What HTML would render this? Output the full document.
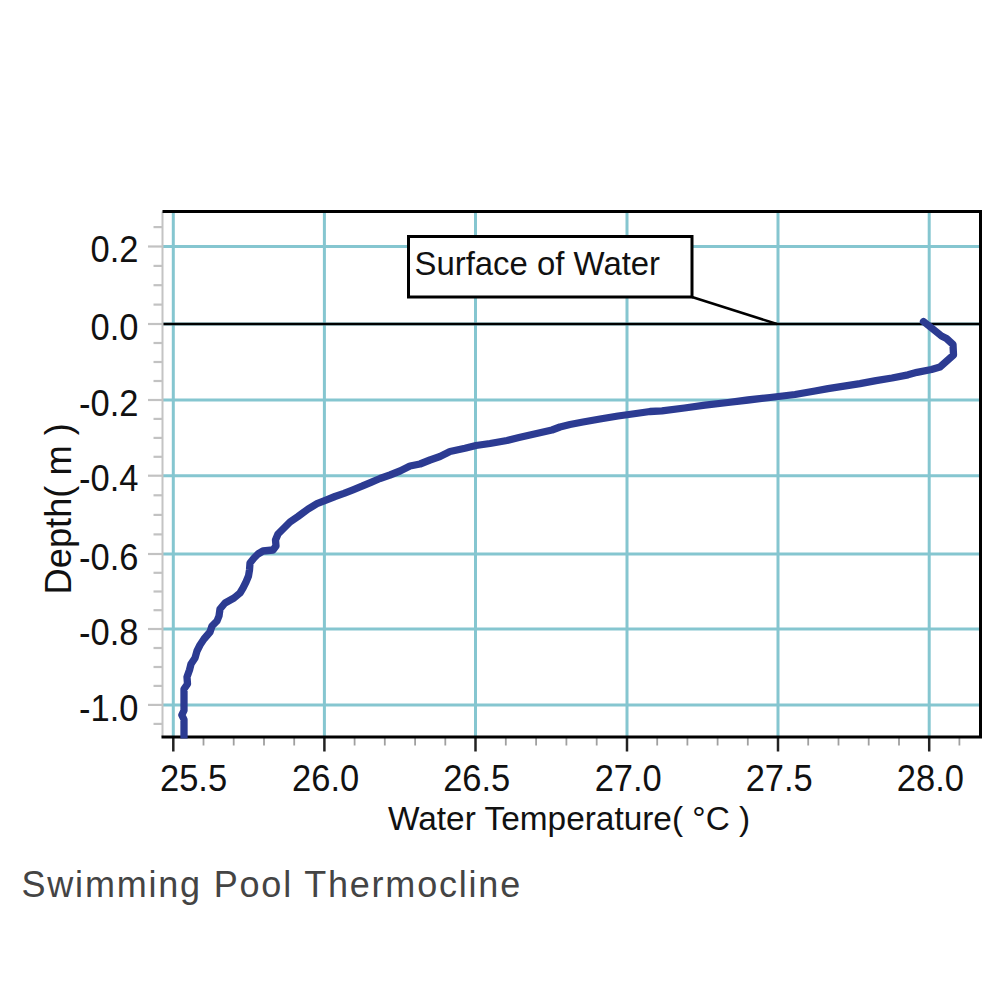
<!DOCTYPE html><html><head><meta charset="utf-8"><style>html,body{margin:0;padding:0;background:#fff;width:1000px;height:1000px;overflow:hidden}svg{display:block}text{font-family:"Liberation Sans",sans-serif}</style></head><body>
<svg width="1000" height="1000" viewBox="0 0 1000 1000">
<rect x="0" y="0" width="1000" height="1000" fill="#fff"/>
<defs><clipPath id="pc"><rect x="162.5" y="211.5" width="818.0" height="527.0"/></clipPath></defs>
<line x1="173.3" y1="211.5" x2="173.3" y2="737.0" stroke="#85c6d0" stroke-width="3"/>
<line x1="324.4" y1="211.5" x2="324.4" y2="737.0" stroke="#85c6d0" stroke-width="3"/>
<line x1="475.5" y1="211.5" x2="475.5" y2="737.0" stroke="#85c6d0" stroke-width="3"/>
<line x1="627.0" y1="211.5" x2="627.0" y2="737.0" stroke="#85c6d0" stroke-width="3"/>
<line x1="778.0" y1="211.5" x2="778.0" y2="737.0" stroke="#85c6d0" stroke-width="3"/>
<line x1="929.2" y1="211.5" x2="929.2" y2="737.0" stroke="#85c6d0" stroke-width="3"/>
<line x1="162.5" y1="246.5" x2="980.5" y2="246.5" stroke="#85c6d0" stroke-width="3"/>
<line x1="162.5" y1="324.0" x2="980.5" y2="324.0" stroke="#85c6d0" stroke-width="3"/>
<line x1="162.5" y1="400.0" x2="980.5" y2="400.0" stroke="#85c6d0" stroke-width="3"/>
<line x1="162.5" y1="475.7" x2="980.5" y2="475.7" stroke="#85c6d0" stroke-width="3"/>
<line x1="162.5" y1="554.0" x2="980.5" y2="554.0" stroke="#85c6d0" stroke-width="3"/>
<line x1="162.5" y1="629.0" x2="980.5" y2="629.0" stroke="#85c6d0" stroke-width="3"/>
<line x1="162.5" y1="704.9" x2="980.5" y2="704.9" stroke="#85c6d0" stroke-width="3"/>
<line x1="153.5" y1="227.1" x2="162.5" y2="227.1" stroke="#c2c2c2" stroke-width="2.2"/>
<line x1="148.0" y1="246.5" x2="162.5" y2="246.5" stroke="#c2c2c2" stroke-width="2.2"/>
<line x1="153.5" y1="265.9" x2="162.5" y2="265.9" stroke="#c2c2c2" stroke-width="2.2"/>
<line x1="153.5" y1="285.2" x2="162.5" y2="285.2" stroke="#c2c2c2" stroke-width="2.2"/>
<line x1="153.5" y1="304.6" x2="162.5" y2="304.6" stroke="#c2c2c2" stroke-width="2.2"/>
<line x1="148.0" y1="324.0" x2="162.5" y2="324.0" stroke="#c2c2c2" stroke-width="2.2"/>
<line x1="153.5" y1="343.0" x2="162.5" y2="343.0" stroke="#c2c2c2" stroke-width="2.2"/>
<line x1="153.5" y1="362.0" x2="162.5" y2="362.0" stroke="#c2c2c2" stroke-width="2.2"/>
<line x1="153.5" y1="381.0" x2="162.5" y2="381.0" stroke="#c2c2c2" stroke-width="2.2"/>
<line x1="148.0" y1="400.0" x2="162.5" y2="400.0" stroke="#c2c2c2" stroke-width="2.2"/>
<line x1="153.5" y1="418.9" x2="162.5" y2="418.9" stroke="#c2c2c2" stroke-width="2.2"/>
<line x1="153.5" y1="437.9" x2="162.5" y2="437.9" stroke="#c2c2c2" stroke-width="2.2"/>
<line x1="153.5" y1="456.8" x2="162.5" y2="456.8" stroke="#c2c2c2" stroke-width="2.2"/>
<line x1="148.0" y1="475.7" x2="162.5" y2="475.7" stroke="#c2c2c2" stroke-width="2.2"/>
<line x1="153.5" y1="495.3" x2="162.5" y2="495.3" stroke="#c2c2c2" stroke-width="2.2"/>
<line x1="153.5" y1="514.9" x2="162.5" y2="514.9" stroke="#c2c2c2" stroke-width="2.2"/>
<line x1="153.5" y1="534.4" x2="162.5" y2="534.4" stroke="#c2c2c2" stroke-width="2.2"/>
<line x1="148.0" y1="554.0" x2="162.5" y2="554.0" stroke="#c2c2c2" stroke-width="2.2"/>
<line x1="153.5" y1="572.8" x2="162.5" y2="572.8" stroke="#c2c2c2" stroke-width="2.2"/>
<line x1="153.5" y1="591.5" x2="162.5" y2="591.5" stroke="#c2c2c2" stroke-width="2.2"/>
<line x1="153.5" y1="610.2" x2="162.5" y2="610.2" stroke="#c2c2c2" stroke-width="2.2"/>
<line x1="148.0" y1="629.0" x2="162.5" y2="629.0" stroke="#c2c2c2" stroke-width="2.2"/>
<line x1="153.5" y1="648.0" x2="162.5" y2="648.0" stroke="#c2c2c2" stroke-width="2.2"/>
<line x1="153.5" y1="667.0" x2="162.5" y2="667.0" stroke="#c2c2c2" stroke-width="2.2"/>
<line x1="153.5" y1="685.9" x2="162.5" y2="685.9" stroke="#c2c2c2" stroke-width="2.2"/>
<line x1="148.0" y1="704.9" x2="162.5" y2="704.9" stroke="#c2c2c2" stroke-width="2.2"/>
<line x1="153.5" y1="723.9" x2="162.5" y2="723.9" stroke="#c2c2c2" stroke-width="2.2"/>
<line x1="173.3" y1="737.0" x2="173.3" y2="751.5" stroke="#222" stroke-width="2.5"/>
<line x1="203.5" y1="737.0" x2="203.5" y2="745.5" stroke="#a0a0a0" stroke-width="1.8"/>
<line x1="233.7" y1="737.0" x2="233.7" y2="745.5" stroke="#a0a0a0" stroke-width="1.8"/>
<line x1="264.0" y1="737.0" x2="264.0" y2="745.5" stroke="#a0a0a0" stroke-width="1.8"/>
<line x1="294.2" y1="737.0" x2="294.2" y2="745.5" stroke="#a0a0a0" stroke-width="1.8"/>
<line x1="324.4" y1="737.0" x2="324.4" y2="751.5" stroke="#222" stroke-width="2.5"/>
<line x1="354.6" y1="737.0" x2="354.6" y2="745.5" stroke="#a0a0a0" stroke-width="1.8"/>
<line x1="384.8" y1="737.0" x2="384.8" y2="745.5" stroke="#a0a0a0" stroke-width="1.8"/>
<line x1="415.1" y1="737.0" x2="415.1" y2="745.5" stroke="#a0a0a0" stroke-width="1.8"/>
<line x1="445.3" y1="737.0" x2="445.3" y2="745.5" stroke="#a0a0a0" stroke-width="1.8"/>
<line x1="475.5" y1="737.0" x2="475.5" y2="751.5" stroke="#222" stroke-width="2.5"/>
<line x1="505.8" y1="737.0" x2="505.8" y2="745.5" stroke="#a0a0a0" stroke-width="1.8"/>
<line x1="536.1" y1="737.0" x2="536.1" y2="745.5" stroke="#a0a0a0" stroke-width="1.8"/>
<line x1="566.4" y1="737.0" x2="566.4" y2="745.5" stroke="#a0a0a0" stroke-width="1.8"/>
<line x1="596.7" y1="737.0" x2="596.7" y2="745.5" stroke="#a0a0a0" stroke-width="1.8"/>
<line x1="627.0" y1="737.0" x2="627.0" y2="751.5" stroke="#222" stroke-width="2.5"/>
<line x1="657.2" y1="737.0" x2="657.2" y2="745.5" stroke="#a0a0a0" stroke-width="1.8"/>
<line x1="687.4" y1="737.0" x2="687.4" y2="745.5" stroke="#a0a0a0" stroke-width="1.8"/>
<line x1="717.6" y1="737.0" x2="717.6" y2="745.5" stroke="#a0a0a0" stroke-width="1.8"/>
<line x1="747.8" y1="737.0" x2="747.8" y2="745.5" stroke="#a0a0a0" stroke-width="1.8"/>
<line x1="778.0" y1="737.0" x2="778.0" y2="751.5" stroke="#222" stroke-width="2.5"/>
<line x1="808.2" y1="737.0" x2="808.2" y2="745.5" stroke="#a0a0a0" stroke-width="1.8"/>
<line x1="838.5" y1="737.0" x2="838.5" y2="745.5" stroke="#a0a0a0" stroke-width="1.8"/>
<line x1="868.7" y1="737.0" x2="868.7" y2="745.5" stroke="#a0a0a0" stroke-width="1.8"/>
<line x1="899.0" y1="737.0" x2="899.0" y2="745.5" stroke="#a0a0a0" stroke-width="1.8"/>
<line x1="929.2" y1="737.0" x2="929.2" y2="751.5" stroke="#222" stroke-width="2.5"/>
<line x1="959.4" y1="737.0" x2="959.4" y2="745.5" stroke="#a0a0a0" stroke-width="1.8"/>
<line x1="162.5" y1="324" x2="980.5" y2="324" stroke="#000" stroke-width="2.5"/>
<line x1="692" y1="297" x2="777" y2="324" stroke="#000" stroke-width="2.5"/>
<rect x="408.5" y="236.5" width="283.5" height="60.5" fill="#fff" stroke="#000" stroke-width="3"/>
<text x="414.5" y="274.5" font-size="32.9" fill="#111">Surface of Water</text>
<line x1="162.5" y1="211.5" x2="162.5" y2="737.0" stroke="#c4c4c4" stroke-width="2"/>
<path d="M162.5 211.5 H980.5 V737.0 H161.5" fill="none" stroke="#000" stroke-width="3"/>
<polyline clip-path="url(#pc)" points="923.5,321.5 931.0,327.5 941.5,336.0 946.5,338.5 953.0,344.5 953.5,355.0 949.0,359.0 940.0,367.0 931.5,369.5 917.0,372.3 908.0,374.8 892.0,378.0 876.0,380.6 860.0,383.6 844.0,386.2 828.0,388.6 815.0,391.0 795.0,394.5 770.0,397.5 748.0,400.0 728.0,402.5 705.0,405.2 684.5,408.0 662.0,410.8 650.0,411.5 636.0,413.5 618.0,416.0 600.0,419.0 583.0,422.0 570.0,424.5 560.0,427.0 552.0,430.0 541.0,432.5 530.0,435.0 519.0,437.5 507.0,440.5 490.0,443.5 476.0,445.5 465.0,448.3 450.0,451.5 440.0,456.5 430.0,460.0 420.0,464.0 410.0,466.0 400.0,471.0 390.0,475.0 380.0,478.5 371.0,482.3 362.0,486.2 353.0,489.8 344.0,493.4 335.0,496.5 326.0,500.1 317.0,503.7 308.0,509.1 298.0,516.5 290.0,522.0 284.0,528.0 278.0,534.0 275.5,540.0 276.0,546.0 273.0,550.0 268.0,550.5 263.0,551.0 258.0,554.0 254.0,558.0 250.0,563.0 249.5,570.0 248.5,576.0 246.0,582.0 243.0,588.0 240.0,593.0 234.0,598.0 225.0,603.0 220.0,609.0 219.0,616.0 217.0,621.0 212.0,626.0 210.0,632.0 204.0,639.0 200.0,645.0 197.0,651.0 195.0,658.0 191.0,664.0 189.5,670.0 187.0,677.0 187.5,684.0 184.0,689.0 184.0,710.5 181.8,715.0 184.0,719.5 184.0,745.0" fill="none" stroke="#2c3b92" stroke-width="7.3" stroke-linejoin="round" stroke-linecap="round"/>
<text transform="translate(138.5,262.1) scale(1,1.09)" font-size="34.5" fill="#111" text-anchor="end">0.2</text>
<text transform="translate(138.5,339.6) scale(1,1.09)" font-size="34.5" fill="#111" text-anchor="end">0.0</text>
<text transform="translate(138.5,415.6) scale(1,1.09)" font-size="34.5" fill="#111" text-anchor="end">-0.2</text>
<text transform="translate(138.5,491.3) scale(1,1.09)" font-size="34.5" fill="#111" text-anchor="end">-0.4</text>
<text transform="translate(138.5,569.6) scale(1,1.09)" font-size="34.5" fill="#111" text-anchor="end">-0.6</text>
<text transform="translate(138.5,644.6) scale(1,1.09)" font-size="34.5" fill="#111" text-anchor="end">-0.8</text>
<text transform="translate(138.5,720.5) scale(1,1.09)" font-size="34.5" fill="#111" text-anchor="end">-1.0</text>
<text transform="translate(160,791) scale(1,1.09)" font-size="34.5" fill="#111">25.5</text>
<text transform="translate(325.6,791) scale(1,1.09)" font-size="34.5" fill="#111" text-anchor="middle">26.0</text>
<text transform="translate(476.7,791) scale(1,1.09)" font-size="34.5" fill="#111" text-anchor="middle">26.5</text>
<text transform="translate(628.2,791) scale(1,1.09)" font-size="34.5" fill="#111" text-anchor="middle">27.0</text>
<text transform="translate(779.2,791) scale(1,1.09)" font-size="34.5" fill="#111" text-anchor="middle">27.5</text>
<text transform="translate(930.4,791) scale(1,1.09)" font-size="34.5" fill="#111" text-anchor="middle">28.0</text>
<text x="388" y="830" font-size="33.4" fill="#111">Water Temperature( °C )</text>
<text transform="translate(70.5,594.5) rotate(-90)" font-size="36.3" fill="#111">Depth( m )</text>
<text x="21.5" y="897" font-size="36" fill="#444" letter-spacing="1.8">Swimming Pool Thermocline</text>
</svg></body></html>
